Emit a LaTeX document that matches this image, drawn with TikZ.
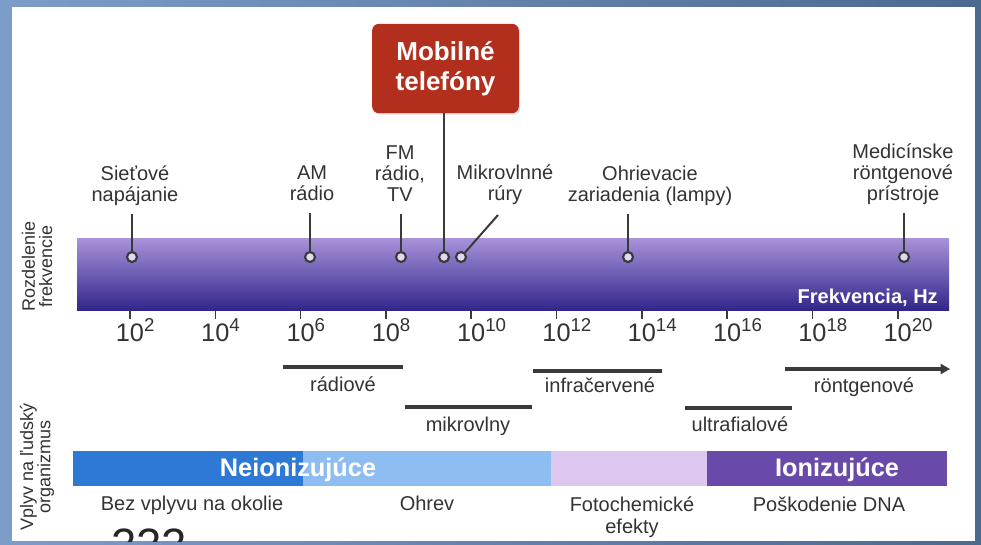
\documentclass[tikz,border=0pt]{standalone}
\usepackage{fontspec}
\setmainfont{Liberation Sans}
\usetikzlibrary{arrows.meta,calc,shadows}
\definecolor{ink}{HTML}{333333}
\definecolor{rule}{HTML}{3A3A3A}
\definecolor{frameL}{HTML}{7C9DC8}
\definecolor{frameR}{HTML}{4B6A90}
\definecolor{mobred}{HTML}{B22F1D}
\definecolor{barhi}{HTML}{A892DA}
\definecolor{barmid}{HTML}{7A60C4}
\definecolor{barlo}{HTML}{33268A}
\definecolor{nonion}{HTML}{2F79D6}
\definecolor{heatblue}{HTML}{8DBDF1}
\definecolor{photolav}{HTML}{DEC7EE}
\definecolor{ionpur}{HTML}{6A4AA8}
\newcommand{\fsz}[1]{\fontsize{#1}{#1}\selectfont}
\newcommand{\tenpow}[1]{10\rlap{\raisebox{7.5pt}{\fsz{14}#1}}}
\tikzset{
  txt/.style={anchor=south, align=center, text depth=0pt, inner sep=0pt, text=ink},
  toplbl/.style={txt, font=\fontsize{15}{15.75}\selectfont},
  dot/.style={circle, draw=rule, line width=1.6pt, fill=white!65!barhi,
              minimum size=7.5pt, inner sep=0pt},
  stem/.style={draw=rule, line width=2.2pt},
  band/.style={draw=rule, line width=2.3pt},
  bandlbl/.style={txt, font=\fsz{15}},
  tick/.style={draw=rule, line width=1.2pt},
  ticklbl/.style={txt, font=\fsz{19}},
  sidelbl/.style={rotate=90, align=center, inner sep=0pt, text=ink,
                  font=\fontsize{13.5}{13}\selectfont},
  effect/.style={txt, font=\fontsize{15}{16.5}\selectfont},
  kind/.style={txt, text=white, font=\bfseries\fsz{19}},
  mobbox/.style={fill=mobred, rounded corners=5pt, minimum width=110pt,
                 minimum height=67pt, align=center, text=white,
                 font=\bfseries\fontsize{19.5}{22}\selectfont,
                 drop shadow={opacity=0.25, shadow xshift=1pt, shadow yshift=-1pt}}}
\begin{document}
\begin{tikzpicture}[x=0.75pt,y=-0.75pt]
\useasboundingbox (0,0) rectangle (981,544);
\shade[left color=frameL, right color=frameR] (0,0) rectangle (981,544);
\fill[white] (12,7) rectangle (975,541);
\begin{scope}
  \clip (12,7) rectangle (975,541);
  \node[anchor=base west, inner sep=0pt, text=black!85, font=\fsz{34}] (pg) at (111,560) {222};
\end{scope}
% frequency bar
\shade[top color=barhi, middle color=barmid, bottom color=barlo] (77,238) rectangle (949,310);
\node[anchor=base east, inner sep=0pt, text=white, font=\bfseries\fsz{15}] (hz) at (938,303) {Frekvencia, Hz};
\foreach \e [count=\i from 0] in {2,4,...,20}{
  \pgfmathsetmacro\xx{130+85.3*\i}
  \coordinate (t\e) at (\xx,310);
  \draw[tick] (t\e) -- ++(0,9);
  \node[ticklbl] (n\e) at (\xx,342) {\tenpow{\e}};
}
% sources
\node[toplbl] (siet) at (135,202) {Sieťové\\napájanie};
\node[toplbl] (am) at (312,201) {AM\\rádio};
\node[toplbl] (fm) at (400,202) {FM\\rádio,\\TV};
\node[toplbl] (mikr) at (505,201) {Mikrovlnné\\rúry};
\node[toplbl] (ohr) at (650,202) {Ohrievacie\\zariadenia (lampy)};
\node[toplbl] (med) at (903,201) {Medicínske\\röntgenové\\prístroje};
\node[mobbox] (mob) at (445.5,68.5) {Mobilné\\telefóny};
\node[dot] (d1) at (132,257) {};
\node[dot] (d2) at (310,257) {};
\node[dot] (d3) at (401,257) {};
\node[dot] (d4) at (444,257) {};
\node[dot] (d5) at (461,257) {};
\node[dot] (d6) at (628,257) {};
\node[dot] (d7) at (904,257) {};
\foreach \lb/\d in {siet/d1,am/d2,fm/d3,ohr/d6,med/d7}
  \draw[stem] ($(\d |- \lb.south)+(0,12)$) -- (\d);
\draw[stem] (mob.south -| d4) -- (d4);
\coordinate (mikrtip) at (498,215);
\draw[stem, line width=1.5pt] (d5) -- (mikrtip);
% bands
\foreach \nm/\a/\b/\y/\c/\bl/\t in {radio/283/403/367/343/392/rádiové,
    mikro/405/532/407/468/432/mikrovlny,
    infra/533/662/371/600/393/infračervené,
    ultra/685/792/408/740/432/ultrafialové}{
  \coordinate (\nm-a) at (\a,\y);
  \coordinate (\nm-b) at (\b,\y);
  \draw[band] (\nm-a) -- (\nm-b);
  \node[bandlbl] (\nm) at (\c,\bl) {\t};
}
\coordinate (ront-a) at (785,369);
\coordinate (ront-b) at (950,369);
\draw[band, -{Triangle[length=7pt,width=7.5pt]}] (ront-a) -- (ront-b);
\node[bandlbl] (ront) at (864,393) {röntgenové};
% effects bar
\fill[nonion] (73,451) rectangle (303,486);
\fill[heatblue] (303,451) rectangle (551,486);
\fill[photolav] (551,451) rectangle (707,486);
\fill[ionpur] (707,451) rectangle (947,486);
\node[kind] (neion) at (298,477) {Neionizujúce};
\node[kind] (ion) at (837,477) {Ionizujúce};
\node[effect] (bez) at (192,511) {Bez vplyvu na okolie};
\node[effect] (ohrev) at (427,511) {Ohrev};
\node[effect] (foto) at (632,534) {Fotochemické\\efekty};
\node[effect] (dna) at (829,512) {Poškodenie DNA};
% side labels
\node[sidelbl] (rozd) at (37,266) {Rozdelenie\\frekvencie};
\node[sidelbl] (vplyv) at (37,467) {Vplyv na ľudský\\organizmus};
\end{tikzpicture}
\end{document}
